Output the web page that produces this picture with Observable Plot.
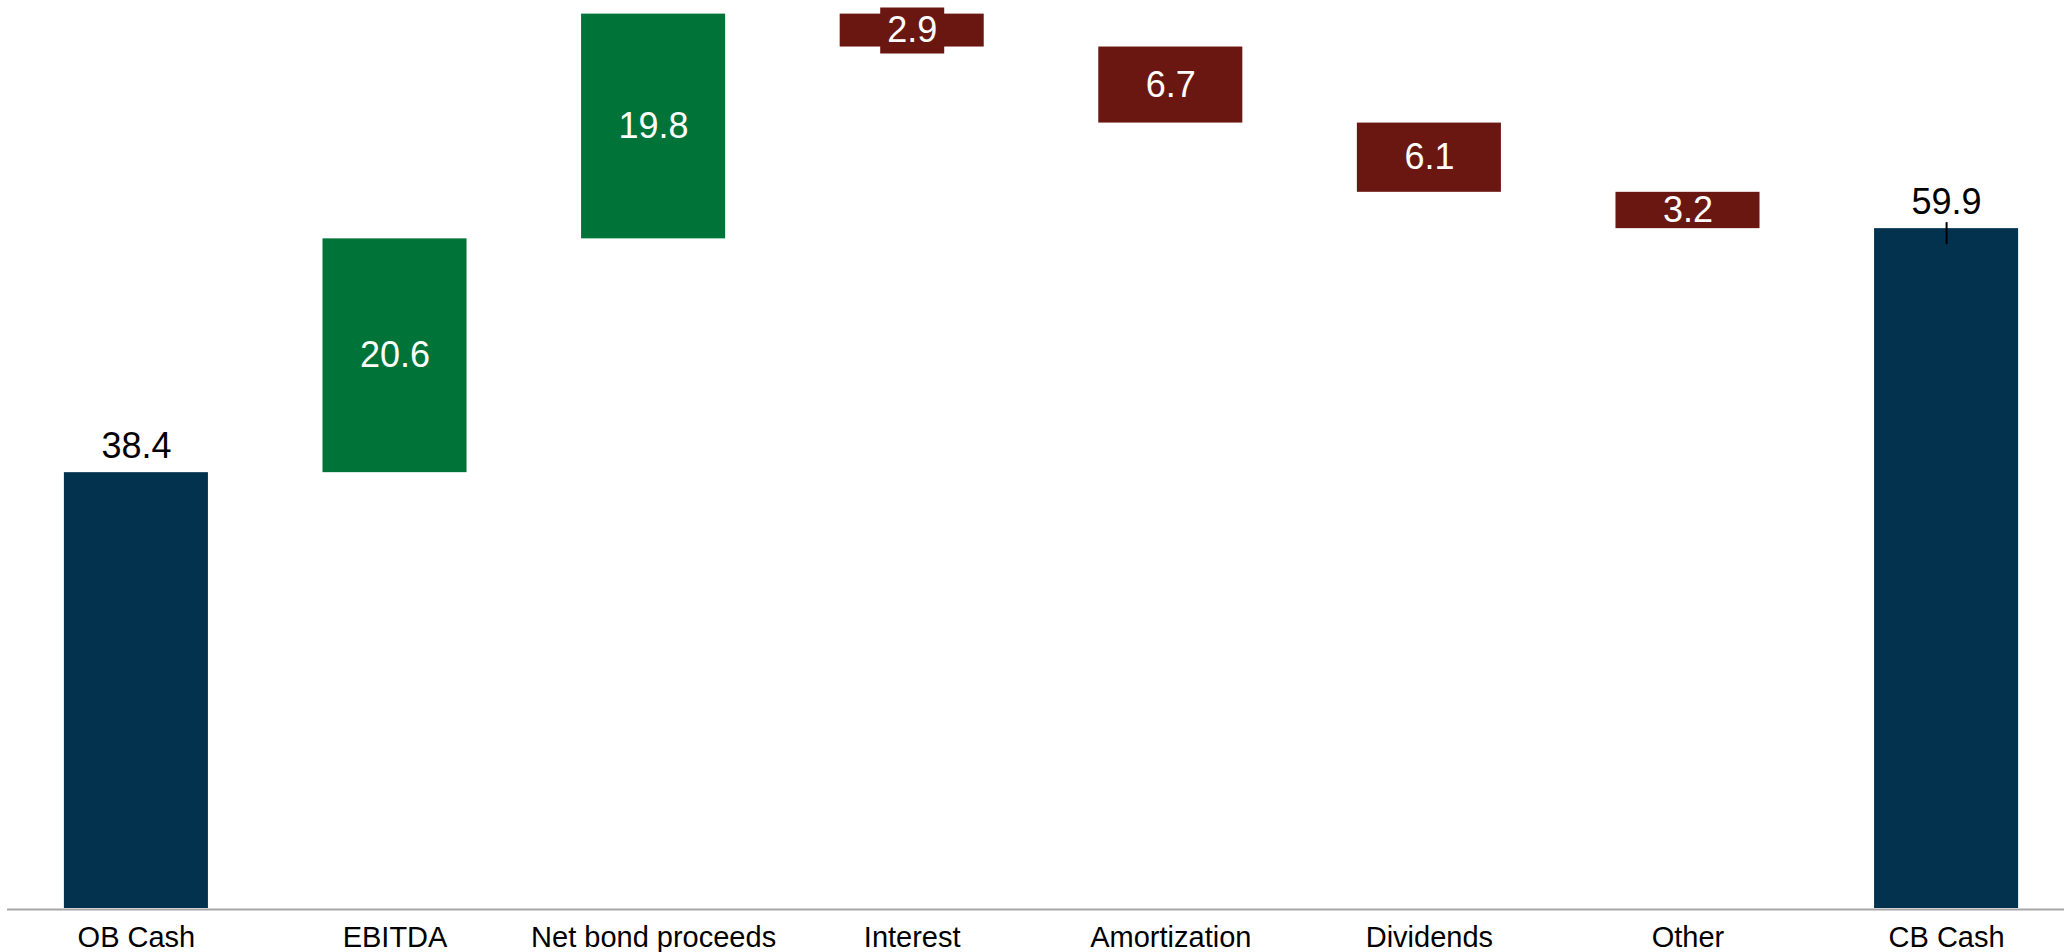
<!DOCTYPE html>
<html>
<head>
<meta charset="utf-8">
<script src="https://cdn.jsdelivr.net/npm/d3@7"></script>
<script src="https://cdn.jsdelivr.net/npm/@observablehq/plot@0.6"></script>
<style>
  html, body { margin: 0; padding: 0; background: #fff; }
  #chart { width: 2064px; height: 952px; }
</style>
</head>
<body>
<div id="chart"></div>
<script>
// ---- data ----
const categories = ["OB Cash", "EBITDA", "Net bond proceeds", "Interest", "Amortization", "Dividends", "Other", "CB Cash"];
const values = [38.4, 20.6, 19.8, -2.9, -6.7, -6.1, -3.2, 59.9];
const kinds = ["total", "delta", "delta", "delta", "delta", "delta", "delta", "total"];

// ---- build waterfall table ----
let running = 0;
const rows = categories.map((c, i) => {
  const v = values[i];
  let y1, y2;
  if (kinds[i] === "total") {
    y1 = 0; y2 = v; running = v;
  } else {
    y1 = running; y2 = running + v; running = y2;
  }
  return {category: c, value: v, kind: kinds[i], y1, y2, mid: (y1 + y2) / 2, top: Math.max(y1, y2),
          label: d3.format(".1f")(Math.abs(v))};
});

const colors = {total: "#03324F", up: "#007338", down: "#6B1711"};
const colorOf = d => d.kind === "total" ? colors.total : (d.value >= 0 ? colors.up : colors.down);

const labelBox = {
  draw(context) { context.rect(-32, -23, 64, 46); }
};

const chart = Plot.plot({
  width: 2064,
  height: 952,
  marginTop: 0,
  marginBottom: 44,
  marginLeft: 7,
  marginRight: 0,
  style: {fontFamily: "'Liberation Sans', Arial, sans-serif", color: "#000", background: "#fff"},
  x: {domain: categories, range: [7, 2075], paddingInner: 0.443, paddingOuter: 0.22, round: false, label: null},
  y: {domain: [0, 80], axis: null},
  marks: [
    Plot.barY(rows, {x: "category", y1: "y1", y2: "y2", fill: colorOf}),
    Plot.ruleY([0], {stroke: "#A6A6A6", strokeWidth: 2.2, dy: 1}),
    // label background for thin bars
    Plot.dot(rows.filter(d => d.kind !== "total" && Math.abs(d.value) < 3),
      {x: "category", y: "mid", symbol: labelBox, fill: colorOf, stroke: "none", r: 10}),
    // in-bar labels
    Plot.text(rows.filter(d => d.kind !== "total"),
      {x: "category", y: "mid", text: "label", fill: "#fff", fontSize: 36, lineAnchor: "middle"}),
    // total labels above bars
    Plot.text(rows.filter(d => d.kind === "total"),
      {x: "category", y: "top", text: "label", fill: "#000", fontSize: 36, lineAnchor: "bottom", dy: -15}),
    // small tick on closing total
    Plot.ruleX(rows.filter(d => d.category === "CB Cash"),
      {x: "category", y1: "top", y2: "top", stroke: "#000", strokeWidth: 2, insetTop: -6, insetBottom: -16}),
    Plot.axisX({tickSize: 0, tickPadding: 18, fontSize: 29, fill: "#000", label: null})
  ]
});

document.getElementById("chart").appendChild(chart);
</script>
</body>
</html>
